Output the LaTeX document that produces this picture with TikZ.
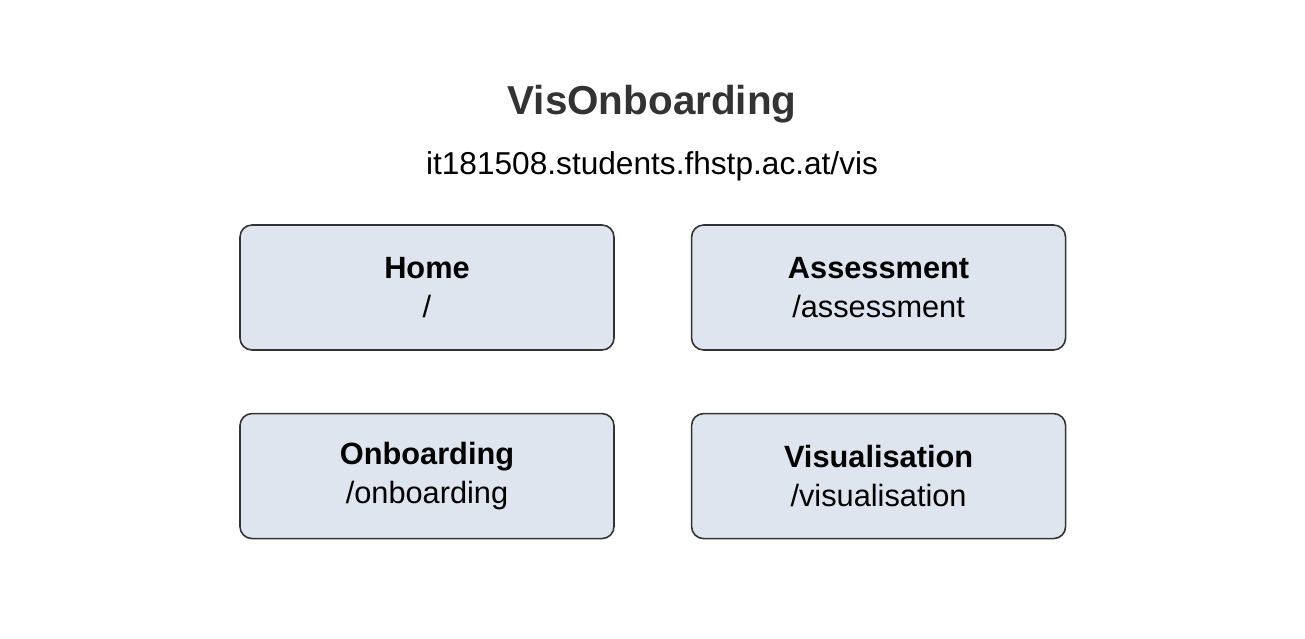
\documentclass[tikz,border=0pt]{standalone}
\usepackage{fontspec}
\setmainfont{Liberation Sans}
\usetikzlibrary{positioning}
\definecolor{pagefill}{HTML}{DFE5EE}
\definecolor{ink}{HTML}{333333}
\begin{document}
\begin{tikzpicture}[page/.style={draw=ink, fill=pagefill, rounded corners=0.24cm, line width=0.9pt,
        minimum width=7.48cm, minimum height=2.5cm, align=center, font=\fontsize{17.5}{22}\selectfont},
    title/.style={text=ink, font=\bfseries\fontsize{23}{27}\selectfont},
    every node/.style={inner sep=0pt}
    ]
    \useasboundingbox (0,0) rectangle (26.1,-12.76);
    % header
    \node[title] (name) at (13.04,-2.08) {VisOnboarding};
    \node[font=\fontsize{18}{22}\selectfont, below=0.55cm of name] (url) {it181508.students.fhstp.ac.at/vis};
    % pages
    \node[page] (home) at (8.54,-5.75) {\textbf{Home}\\/};
    \node[page, right=1.52cm of home] (assess) {\textbf{Assessment}\\/assessment};
    \node[page, below=1.24cm of home] (onboard) {\textbf{Onboarding}\\/onboarding};
    \node[page, below=1.24cm of assess] (vis) {\textbf{Visualisation}\\/visualisation};
\end{tikzpicture}
\end{document}
